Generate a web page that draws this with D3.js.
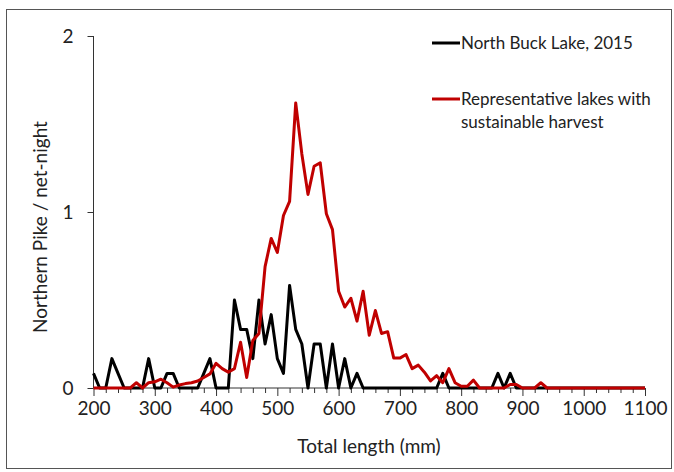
<!DOCTYPE html>
<html>
<head>
<meta charset="utf-8">
<script src="https://cdn.jsdelivr.net/npm/d3@7"></script>
<style>
  body { margin: 0; background: #fff; }
  text { font-family: Lato, "Open Sans", sans-serif; fill: #222; }
</style>
</head>
<body>
<div id="chart"></div>
<script>
/**
 * Length classes (mm) and catch per net-night
*/
var lengths = [200, 210, 220, 230, 240, 250, 260, 270, 280, 290,
  300, 310, 320, 330, 340, 350, 360, 370, 380, 390,
  400, 410, 420, 430, 440, 450, 460, 470, 480, 490,
  500, 510, 520, 530, 540, 550, 560, 570, 580, 590,
  600, 610, 620, 630, 640, 650, 660, 670, 680, 690,
  700, 710, 720, 730, 740, 750, 760, 770, 780, 790,
  800, 810, 820, 830, 840, 850, 860, 870, 880, 890,
  900, 910, 920, 930, 940, 950, 960, 970, 980, 990,
  1000, 1010, 1020, 1030, 1040, 1050, 1060, 1070, 1080, 1090,
  1100];

var northBuck = [0.083, 0, 0, 0.167, 0.083, 0, 0, 0, 0, 0.167,
  0, 0, 0.083, 0.083, 0, 0, 0, 0, 0.083, 0.167,
  0, 0, 0, 0.5, 0.333, 0.333, 0.167, 0.5, 0.25, 0.417,
  0.167, 0.083, 0.583, 0.333, 0.25, 0, 0.25, 0.25, 0, 0.25,
  0, 0.167, 0, 0.083, 0, 0, 0, 0, 0, 0,
  0, 0, 0, 0, 0, 0, 0, 0.083, 0, 0,
  0, 0, 0, 0, 0, 0, 0.083, 0, 0.083, 0,
  0, 0, 0, 0, 0, 0, 0, 0, 0, 0,
  0, 0, 0, 0, 0, 0, 0, 0, 0, 0,
  0];

var representative = [0, 0, 0, 0, 0, 0, 0, 0.03, 0, 0.03,
  0.035, 0.05, 0.03, 0.005, 0.017, 0.025, 0.03, 0.04, 0.06, 0.08,
  0.14, 0.11, 0.09, 0.11, 0.26, 0.06, 0.27, 0.31, 0.69, 0.85,
  0.77, 0.98, 1.06, 1.62, 1.33, 1.10, 1.26, 1.28, 0.99, 0.90,
  0.55, 0.46, 0.51, 0.38, 0.55, 0.30, 0.44, 0.31, 0.32, 0.17,
  0.17, 0.19, 0.11, 0.13, 0.09, 0.04, 0.07, 0.03, 0.11, 0.03,
  0.01, 0.01, 0.045, 0, 0, 0, 0, 0, 0.02, 0.02,
  0, 0, 0, 0.03, 0, 0, 0, 0, 0, 0,
  0, 0, 0, 0, 0, 0, 0, 0, 0, 0,
  0];

var xTicks = [200, 300, 400, 500, 600, 700, 800, 900, 1000, 1100];
var yTicks = [0, 1, 2];

var seriesNames = ["North Buck Lake, 2015", "Representative lakes with|sustainable harvest"];
var seriesColors = ["#000000", "#c00000"];

/**
 * Load the svg into #chart
*/
var width = 674;
var height = 472;
var svg = d3.select("#chart").append("svg")
  .attr("width", width)
  .attr("height", height);

// outer frame
svg.append("rect")
  .attr("x", 6.5).attr("y", 9.5)
  .attr("width", 665).attr("height", 459)
  .attr("fill", "none")
  .attr("stroke", "#555")
  .attr("stroke-width", 1);

var x = d3.scaleLinear().domain([200, 1100]).range([93.5, 645]);
var y = d3.scaleLinear().domain([0, 2]).range([388, 36]);

// y axis
var yAxis = svg.append("g")
  .attr("transform", "translate(" + x(200) + ",0)")
  .call(d3.axisLeft(y).tickValues(yTicks).tickFormat(d3.format("d")).tickSize(6).tickPadding(14));
yAxis.select(".domain").attr("stroke", "#333").attr("d", "M0," + y(0) + "V" + y(2));
yAxis.selectAll(".tick line").attr("stroke", "#333");
yAxis.selectAll("text").style("font-size", "19px").attr("fill", "#222");

// x axis: minor ticks every 20 mm, labelled every 100 mm
var minorTicks = lengths.filter(function(d) { return d % 20 == 0 && d % 100 != 0; });
svg.append("g")
  .attr("transform", "translate(0," + y(0) + ")")
  .call(d3.axisBottom(x).tickValues(minorTicks).tickFormat("").tickSize(5))
  .call(function(g) {
    g.select(".domain").remove();
    g.selectAll(".tick line").attr("stroke", "#333");
  });

var xAxis = svg.append("g")
  .attr("transform", "translate(0," + y(0) + ")")
  .call(d3.axisBottom(x).tickValues(xTicks).tickFormat(d3.format("d")).tickSize(8).tickPadding(6));
xAxis.select(".domain").attr("stroke", "#333").attr("d", "M" + x(200) + ",0H" + x(1100));
xAxis.selectAll(".tick line").attr("stroke", "#333");
xAxis.selectAll("text").style("font-size", "19px").attr("fill", "#222");

// axis titles
svg.append("text")
  .attr("x", 369).attr("y", 453)
  .attr("text-anchor", "middle")
  .style("font-size", "19px")
  .text("Total length (mm)");

svg.append("text")
  .attr("transform", "translate(47,227) rotate(-90)")
  .attr("text-anchor", "middle")
  .style("font-size", "19px")
  .text("Northern Pike / net-night");

// the two length-frequency lines, red drawn last so it sits on top
var line = d3.line()
  .x(function(d) { return x(d[0]); })
  .y(function(d) { return y(d[1]); });

[northBuck, representative].forEach(function(vals, i) {
  svg.append("path")
    .datum(lengths.map(function(l, j) { return [l, vals[j]]; }))
    .attr("fill", "none")
    .attr("stroke", seriesColors[i])
    .attr("stroke-width", 3)
    .attr("stroke-linejoin", "round")
    .attr("d", line);
});

// legend
var legendY = [43, 99];
seriesNames.forEach(function(name, i) {
  svg.append("line")
    .attr("x1", 432).attr("x2", 460)
    .attr("y1", legendY[i]).attr("y2", legendY[i])
    .attr("stroke", seriesColors[i])
    .attr("stroke-width", 3);
  var t = svg.append("text")
    .attr("x", 461).attr("y", legendY[i] + 6)
    .style("font-size", "17px");
  name.split("|").forEach(function(part, k) {
    t.append("tspan")
      .attr("x", 461)
      .attr("dy", k == 0 ? 0 : 23)
      .text(part);
  });
});
</script>
</body>
</html>
